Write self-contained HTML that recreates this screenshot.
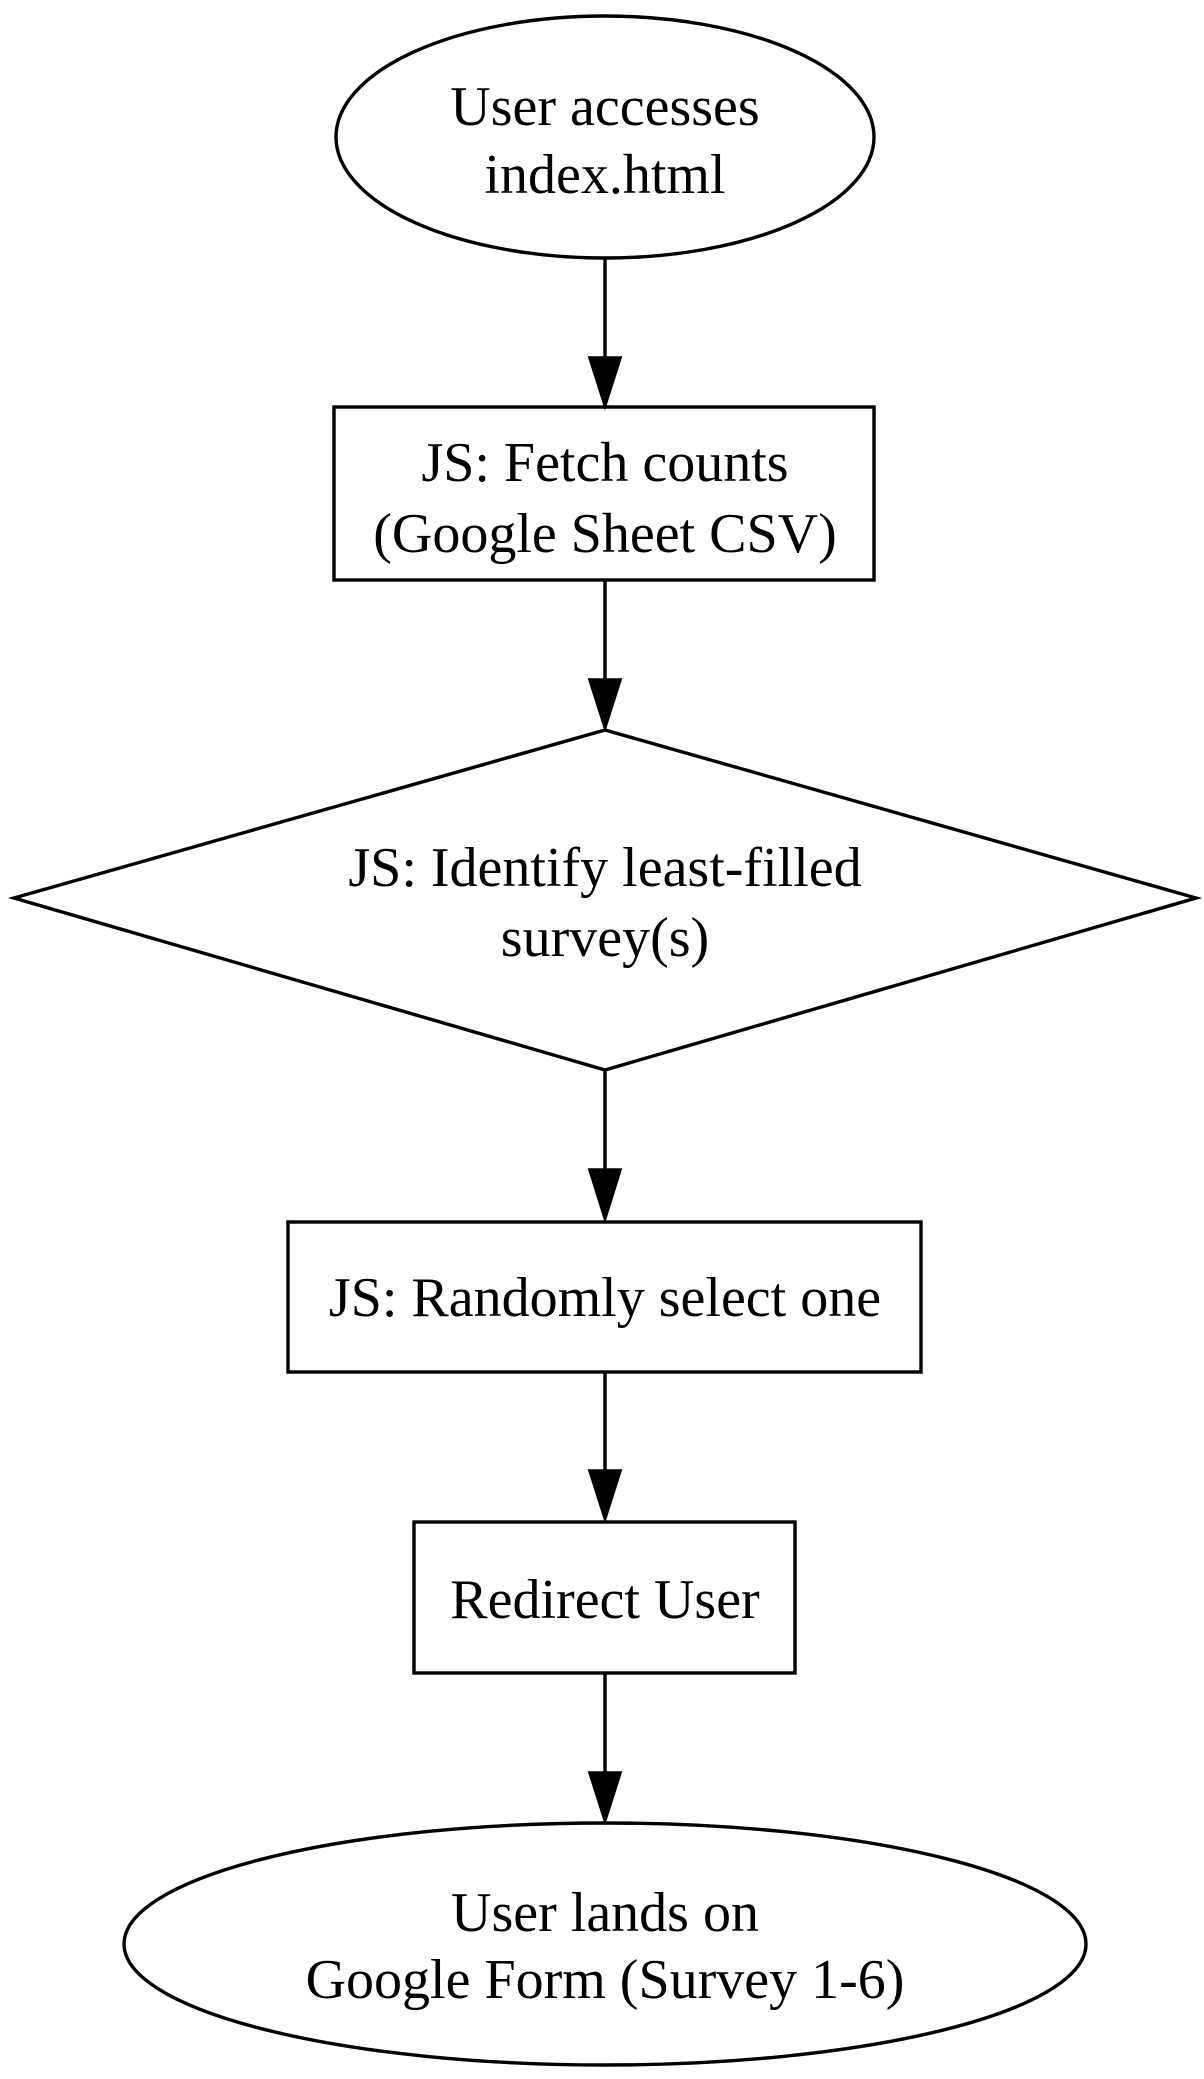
<!DOCTYPE html>
<html><head><meta charset="utf-8"><style>
html,body{margin:0;padding:0;background:#fff;}
svg{display:block;}
text{font-family:"Liberation Serif",serif;font-size:56px;fill:#000;text-anchor:middle;}
</style></head><body>
<svg width="1204" height="2079" viewBox="0 0 1204 2079" xmlns="http://www.w3.org/2000/svg">
<g fill="none" stroke="#000" stroke-width="3.4">
<ellipse cx="605" cy="137" rx="269" ry="121" fill="#fff"/>
<rect x="334" y="407" width="540" height="173" fill="#fff"/>
<polygon points="605,730 1196,898 605,1070 14,898" fill="#fff"/>
<rect x="288" y="1222" width="633" height="150" fill="#fff"/>
<rect x="414" y="1522" width="381" height="151" fill="#fff"/>
<ellipse cx="605" cy="1944" rx="481" ry="121" fill="#fff"/>
<line x1="605" y1="258" x2="605" y2="360"/>
<line x1="605" y1="580" x2="605" y2="682"/>
<line x1="605" y1="1070" x2="605" y2="1172"/>
<line x1="605" y1="1372" x2="605" y2="1473"/>
<line x1="605" y1="1673" x2="605" y2="1775"/>
</g>
<g fill="#000" stroke="#000" stroke-width="3.4">
<polygon points="590,358 620,358 605,405"/>
<polygon points="590,680 620,680 605,727"/>
<polygon points="590,1170 620,1170 605,1218"/>
<polygon points="590,1471 620,1471 605,1518"/>
<polygon points="590,1773 620,1773 605,1820"/>
</g>
<text x="605" y="125">User accesses</text>
<text x="605" y="193">index.html</text>
<text x="605" y="481">JS: Fetch counts</text>
<text x="605" y="552">(Google Sheet CSV)</text>
<text x="605" y="886">JS: Identify least-filled</text>
<text x="605" y="956">survey(s)</text>
<text x="605" y="1316">JS: Randomly select one</text>
<text x="605" y="1618">Redirect User</text>
<text x="605" y="1931">User lands on</text>
<text x="605" y="1998">Google Form (Survey 1-6)</text>
</svg>
</body></html>
